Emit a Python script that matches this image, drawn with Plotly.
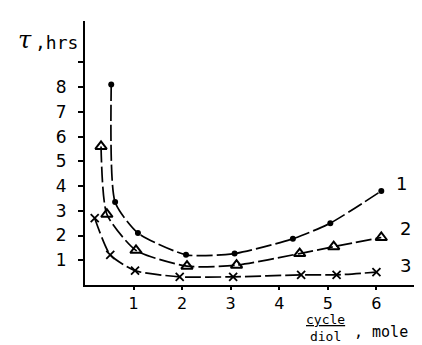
import plotly.graph_objects as go

# data
s1_x = [0.54, 0.62, 1.09, 2.08, 3.08, 4.28, 5.05, 6.1]
s1_y = [8.1, 3.35, 2.1, 1.22, 1.27, 1.87, 2.5, 3.8]
s2_x = [0.33, 0.45, 1.05, 2.1, 3.12, 4.42, 5.12, 6.1]
s2_y = [5.6, 2.86, 1.4, 0.76, 0.8, 1.27, 1.55, 1.92]
s3_x = [0.2, 0.52, 1.03, 1.95, 3.05, 4.45, 5.18, 6.0]
s3_y = [2.7, 1.22, 0.58, 0.33, 0.33, 0.41, 0.41, 0.52]
series_labels = ["1", "2", "3"]
x_ticks = [1, 2, 3, 4, 5, 6]
y_ticks = [1, 2, 3, 4, 5, 6, 7, 8, 9]
y_ticktext = ["1", "2", "3", "4", "5", "6", "7", "8", ""]

W, H = 422, 345
L, R, T, B = 77, 5, 13, 68
pw, ph = W - L - R, H - T - B

def px(x):
    return (x - L) / pw

def py(y):
    return (H - B - y) / ph

fig = go.Figure()
dash = "16px,4px"
fig.add_trace(go.Scatter(x=s1_x, y=s1_y, mode="lines+markers",
                         line=dict(color="black", width=1.7, shape="spline", smoothing=0.6, dash=dash),
                         marker=dict(symbol="circle", size=6, color="black")))
fig.add_trace(go.Scatter(x=s2_x, y=s2_y, mode="lines+markers",
                         line=dict(color="black", width=1.7, shape="spline", smoothing=0.6, dash=dash),
                         marker=dict(symbol="triangle-up-open", size=10, color="black", line=dict(width=2))))
fig.add_trace(go.Scatter(x=s3_x, y=s3_y, mode="lines+markers",
                         line=dict(color="black", width=1.7, shape="spline", smoothing=0.6, dash=dash),
                         marker=dict(symbol="x-thin", size=8, color="black", line=dict(width=1.8, color="black"))))

# series labels
lab_pos = [(s1_x[-1] + 0.42, s1_y[-1] + 0.32), (s2_x[-1] + 0.5, s2_y[-1] + 0.38), (s3_x[-1] + 0.6, s3_y[-1] + 0.28)]
for t, (lx, ly) in zip(series_labels, lab_pos):
    fig.add_annotation(x=lx, y=ly, text=t, showarrow=False,
                       font=dict(family="DejaVu Sans", size=18, color="black"))

# y title
fig.add_annotation(xref="paper", yref="paper", x=px(8), y=py(32), xanchor="left", yanchor="middle",
                   text="<i>τ</i>", showarrow=False, font=dict(family="DejaVu Serif", size=24, color="black"))
fig.add_annotation(xref="paper", yref="paper", x=px(25), y=py(34), xanchor="left", yanchor="middle",
                   text=",hrs", showarrow=False, font=dict(family="DejaVu Sans Mono", size=18, color="black"))

# x title (fraction)
fig.add_annotation(xref="paper", yref="paper", x=px(317), y=py(320), xanchor="center", yanchor="middle",
                   text="<u>cycle</u><br>diol", showarrow=False, borderpad=0,
                   font=dict(family="DejaVu Sans Mono", size=13, color="black"))
fig.add_annotation(xref="paper", yref="paper", x=px(344), y=py(324), xanchor="left", yanchor="middle",
                   text=", mole", showarrow=False, font=dict(family="DejaVu Sans Mono", size=15, color="black"))

fig.update_layout(
    width=W, height=H,
    margin=dict(l=L, r=R, t=T, b=B),
    paper_bgcolor="white", plot_bgcolor="white",
    showlegend=False,
    xaxis=dict(range=[0, 7.0], tickvals=x_ticks, ticktext=[str(v) for v in x_ticks],
               showline=True, linecolor="black", linewidth=2, ticks="outside", ticklen=3,
               tickwidth=1.5, tickcolor="black", showgrid=False, zeroline=False,
               tickfont=dict(family="DejaVu Sans", size=16, color="black")),
    yaxis=dict(range=[0, 10.67], tickvals=y_ticks, ticktext=y_ticktext,
               showline=True, linecolor="black", linewidth=2, ticks="outside", ticklen=5,
               tickwidth=1.5, tickcolor="black", showgrid=False, zeroline=False,
               ticklabelstandoff=8,
               tickfont=dict(family="DejaVu Sans", size=17, color="black")),
)

fig.write_html("out.html")
